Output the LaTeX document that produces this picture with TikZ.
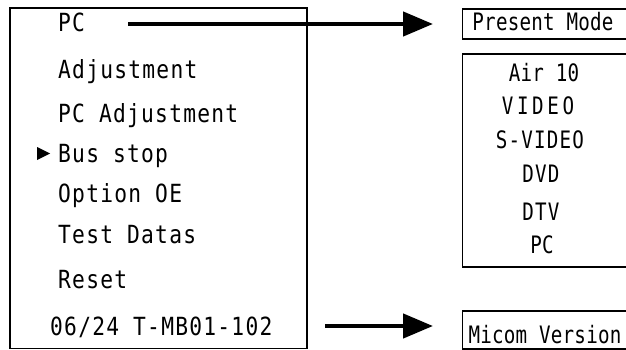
\documentclass[tikz,border=0pt]{standalone}
\usepackage{fontspec}
\usetikzlibrary{arrows.meta}
\newfontfamily\leftfont[FakeStretch=0.85,LetterSpace=5]{DejaVu Sans Mono}
\newfontfamily\rightfont[FakeStretch=0.8,LetterSpace=1]{DejaVu Sans Mono}
\newfontfamily\rightmid[FakeStretch=0.8,LetterSpace=5]{DejaVu Sans Mono}
\newfontfamily\rightwide[FakeStretch=0.8,LetterSpace=15]{DejaVu Sans Mono}
\begin{document}
\begin{tikzpicture}[x=1pt,y=-1pt,
  frame/.style={draw=black,line width=1.6pt,inner sep=0pt},
  ltext/.style={anchor=base west,inner sep=0pt,font=\leftfont\fontsize{25}{28}\selectfont},
  rtext/.style={anchor=base,inner sep=0pt,font=\rightfont\fontsize{24}{27}\selectfont},
  rmid/.style={rtext,font=\rightmid\fontsize{24}{27}\selectfont},
  rwide/.style={rtext,font=\rightwide\fontsize{24}{27}\selectfont},
  arr/.style={line width=4.5pt,-{Triangle[length=30pt,width=24pt]}}]
\useasboundingbox (0,0) rectangle (626,350);
\clip (0,0) rectangle (626,350);
% left menu box
\node[frame,anchor=north west,minimum width=297pt,minimum height=340pt] (menu) at (9,7.5) {};
\node[ltext] (pc) at (58,32) {PC};
\node[ltext] (adj) at (58,79) {Adjustment};
\node[ltext] (pcadj) at (58,122) {PC Adjustment};
\node[ltext] (bus) at (58,162) {Bus stop};
\node[ltext] (opt) at (58,202) {Option OE};
\node[ltext] (test) at (58,243) {Test Datas};
\node[ltext] (reset) at (58,288) {Reset};
\node[ltext] (ver) at (50,335) {06/24 T-MB01-102};
\fill (37,147) -- (50,153.5) -- (37,160) -- cycle;
% right boxes
\node[frame,anchor=north west,minimum width=166pt,minimum height=30pt] (pm) at (461.5,8) {};
\node[rtext] (pmt) at (543,31) {Present Mode};
\node[frame,anchor=north west,minimum width=166pt,minimum height=213pt] (modes) at (461.5,53) {};
\node[rtext] (m1) at (544,82) {Air 10};
\node[rwide] (m2) at (538,115) {VIDEO};
\node[rmid] (m3) at (540,148) {S-VIDEO};
\node[rmid] (m4) at (541,182) {DVD};
\node[rmid] (m5) at (541,220) {DTV};
\node[rtext] (m6) at (542,253) {PC};
\node[frame,anchor=north west,minimum width=166pt,minimum height=38pt] (mv) at (461.5,310) {};
\node[rtext] (mvt) at (545,343) {Micom Version};
% arrows
\coordinate (a1s) at (128,24);
\coordinate (a1e) at (433,24);
\coordinate (a2s) at (325,326);
\coordinate (a2e) at (433,326);
\draw[arr] (a1s) -- (a1e);
\draw[arr] (a2s) -- (a2e);
\end{tikzpicture}
\end{document}
